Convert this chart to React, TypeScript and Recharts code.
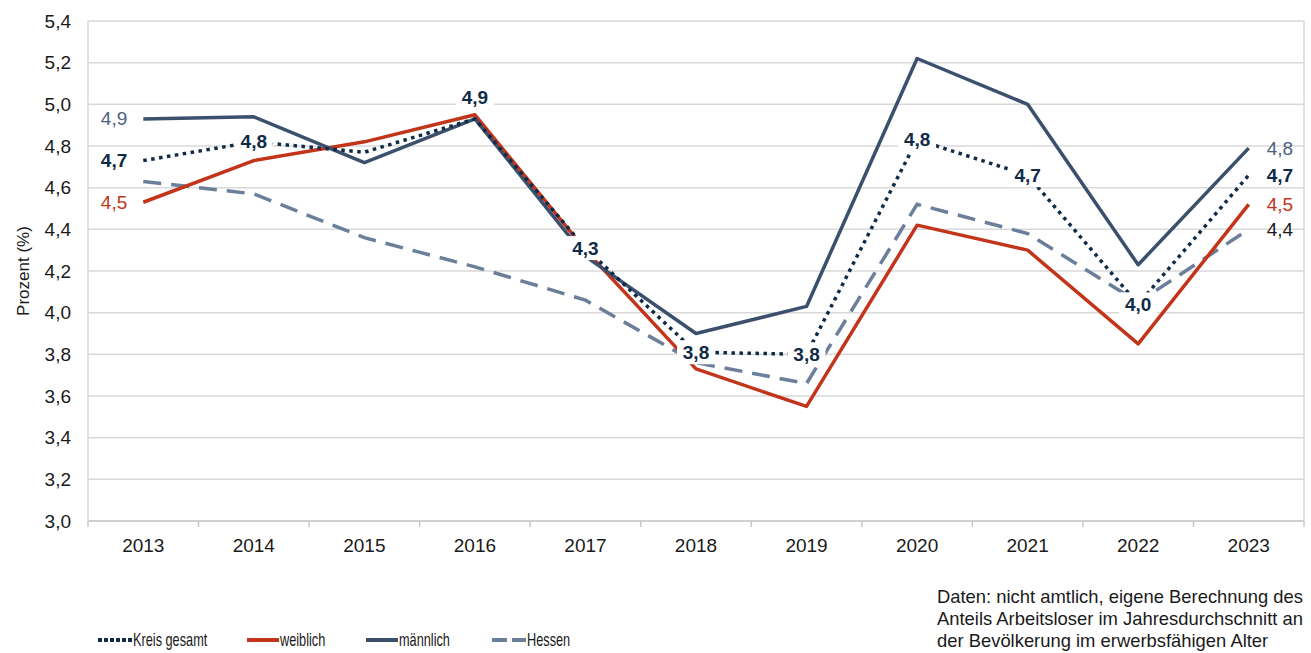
import { LineChart, Line, XAxis, YAxis, CartesianGrid, LabelList, ReferenceLine } from "recharts";

const YEARS = ["2013", "2014", "2015", "2016", "2017", "2018", "2019", "2020", "2021", "2022", "2023"];
const KREIS = [4.73, 4.82, 4.77, 4.93, 4.31, 3.81, 3.8, 4.83, 4.66, 4.04, 4.66];
const WEIBLICH = [4.53, 4.73, 4.82, 4.95, 4.3, 3.73, 3.55, 4.42, 4.3, 3.85, 4.52];
const MAENNLICH = [4.93, 4.94, 4.72, 4.93, 4.27, 3.9, 4.03, 5.22, 5.0, 4.23, 4.79];
const HESSEN = [4.63, 4.57, 4.36, 4.22, 4.06, 3.76, 3.66, 4.52, 4.38, 4.05, 4.4];
const Y_TICKS = [3.0, 3.2, 3.4, 3.6, 3.8, 4.0, 4.2, 4.4, 4.6, 4.8, 5.0, 5.2, 5.4];

const FOOTNOTE = [
  "Daten: nicht amtlich, eigene Berechnung des",
  "Anteils Arbeitsloser im Jahresdurchschnitt an",
  "der Bevölkerung im erwerbsfähigen Alter",
  "nach Geschlecht von 15-64 J.",
];

const W = 1311;
const H = 653;
const MARGIN = { top: 21, right: 7, bottom: 92, left: 0 };
const Y_AXIS_W = 88;
const X_AXIS_H = 40;
const AXIS_Y = H - MARGIN.bottom - X_AXIS_H;
const BAND = (W - MARGIN.left - MARGIN.right - Y_AXIS_W) / YEARS.length;

const C_KREIS = "#0f2b47";
const C_WEIBLICH = "#c2351b";
const C_MAENNLICH = "#3b506d";
const C_HESSEN = "#6b7f9a";
const FONT = "'Liberation Sans', Arial, sans-serif";

const data = YEARS.map((year, i) => ({
  year,
  pos: i + 0.5,
  kreis: KREIS[i],
  weiblich: WEIBLICH[i],
  maennlich: MAENNLICH[i],
  hessen: HESSEN[i],
}));

const fmt = (v: number) => v.toFixed(1).replace(".", ",");

type Place = "left" | "right" | "center" | "above" | null;
const KREIS_PLACES: Place[] = ["left", "center", null, "above", "center", "center", "center", "center", "center", "center", "right"];
const ENDS_PLACES: Place[] = ["left", null, null, null, null, null, null, null, null, null, "right"];
const RIGHT_ONLY: Place[] = [null, null, null, null, null, null, null, null, null, null, "right"];

function makeLabel(places: Place[], color: string, bold: boolean, boxed: boolean) {
  return (props: any) => {
    const { x, y, value, index } = props;
    const p = places[index];
    if (!p || value == null) return null;
    let tx = x;
    let ty = y;
    let anchor: "start" | "middle" | "end" = "middle";
    if (p === "left") {
      tx = x - 16;
      anchor = "end";
    } else if (p === "right") {
      tx = x + 18;
      anchor = "start";
    } else if (p === "above") {
      ty = y - 21;
    }
    const showBox = boxed && (p === "center" || p === "above");
    return (
      <g>
        {showBox && <rect x={tx - 19} y={ty - 12} width={38} height={24} fill="#fff" />}
        <text
          x={tx}
          y={ty}
          textAnchor={anchor}
          dominantBaseline="central"
          fontSize={19}
          fontWeight={bold ? 700 : 400}
          fill={color}
          fontFamily={FONT}
        >
          {fmt(value)}
        </text>
      </g>
    );
  };
}

function XTick(props: any) {
  const { x, index, payload } = props;
  const half = BAND / 2;
  const last = index === YEARS.length - 1;
  return (
    <g>
      <line x1={x - half} x2={x - half} y1={AXIS_Y} y2={AXIS_Y + 6} stroke="#c8c8c8" strokeWidth={1.5} />
      {last && <line x1={x + half} x2={x + half} y1={AXIS_Y} y2={AXIS_Y + 6} stroke="#c8c8c8" strokeWidth={1.5} />}
      <text x={x} y={AXIS_Y + 24} textAnchor="middle" dominantBaseline="central" fontSize={19} fill="#1a1a1a" fontFamily={FONT}>
        {YEARS[Math.round(payload.value - 0.5)]}
      </text>
    </g>
  );
}

function LegendIcon({ kind }: { kind: string }) {
  if (kind === "kreis")
    return (
      <svg width={34} height={10} style={{ display: "block" }}>
        <line x1={0} x2={34} y1={5} y2={5} stroke={C_KREIS} strokeWidth={4} strokeDasharray="4 2" />
      </svg>
    );
  if (kind === "hessen")
    return (
      <svg width={34} height={10} style={{ display: "block" }}>
        <line x1={0} x2={34} y1={5} y2={5} stroke={C_HESSEN} strokeWidth={4} strokeDasharray="15 5" />
      </svg>
    );
  return (
    <svg width={32} height={10} style={{ display: "block" }}>
      <line x1={0} x2={32} y1={5} y2={5} stroke={kind === "weiblich" ? C_WEIBLICH : C_MAENNLICH} strokeWidth={4} strokeLinecap="round" />
    </svg>
  );
}

const LEGEND = [
  { kind: "kreis", label: "Kreis gesamt", left: 98 },
  { kind: "weiblich", label: "weiblich", left: 247 },
  { kind: "maennlich", label: "männlich", left: 366 },
  { kind: "hessen", label: "Hessen", left: 492 },
];

export default function App() {
  return (
    <div style={{ position: "fixed", left: 0, top: 0, width: W, height: H, overflow: "hidden", background: "#fff" }}>
      <LineChart width={W} height={H} data={data} margin={MARGIN} style={{ fontFamily: FONT }}>
        <CartesianGrid vertical={false} stroke="#d9d9d9" strokeWidth={1.5} />
        <XAxis
          type="number"
          dataKey="pos"
          domain={[0, YEARS.length]}
          ticks={data.map((d) => d.pos)}
          interval={0}
          tick={<XTick />}
          tickLine={false}
          axisLine={{ stroke: "#c8c8c8", strokeWidth: 1.5 }}
          height={X_AXIS_H}
        />
        <YAxis
          type="number"
          domain={[3, 5.4]}
          ticks={Y_TICKS}
          interval={0}
          tickFormatter={fmt}
          width={Y_AXIS_W}
          axisLine={{ stroke: "#d9d9d9", strokeWidth: 1.5 }}
          tickLine={false}
          tickSize={0}
          tickMargin={17}
          tick={{ fontSize: 19, fill: "#1a1a1a", fontFamily: FONT }}
          label={{
            content: ({ viewBox }: any) => {
              const cx = 23;
              const cy = viewBox.y + viewBox.height / 2;
              return (
                <text x={cx} y={cy} transform={`rotate(-90, ${cx}, ${cy})`} textAnchor="middle" dominantBaseline="central" fontSize={17} fill="#1a1a1a" fontFamily={FONT}>
                  Prozent (%)
                </text>
              );
            },
          }}
        />
        <ReferenceLine x={YEARS.length} stroke="#d9d9d9" strokeWidth={1.5} />
        <Line dataKey="hessen" stroke={C_HESSEN} strokeWidth={3.5} strokeDasharray="18 10" dot={false} isAnimationActive={false}>
          <LabelList dataKey="hessen" content={makeLabel(RIGHT_ONLY, "#1a1a1a", false, false)} />
        </Line>
        <Line dataKey="weiblich" stroke={C_WEIBLICH} strokeWidth={3.5} strokeLinejoin="round" dot={false} isAnimationActive={false}>
          <LabelList dataKey="weiblich" content={makeLabel(ENDS_PLACES, C_WEIBLICH, false, false)} />
        </Line>
        <Line dataKey="maennlich" stroke={C_MAENNLICH} strokeWidth={3.5} strokeLinejoin="round" dot={false} isAnimationActive={false}>
          <LabelList dataKey="maennlich" content={makeLabel(ENDS_PLACES, "#4d6280", false, false)} />
        </Line>
        <Line dataKey="kreis" stroke={C_KREIS} strokeWidth={3.5} strokeDasharray="3.5 4.5" dot={false} isAnimationActive={false}>
          <LabelList dataKey="kreis" content={makeLabel(KREIS_PLACES, C_KREIS, true, true)} />
        </Line>
      </LineChart>

      {LEGEND.map((item) => (
        <div key={item.kind} style={{ position: "absolute", left: item.left, top: 629, display: "flex", alignItems: "center", height: 22 }}>
          <LegendIcon kind={item.kind} />
          <span
            style={{
              display: "inline-block",
              fontFamily: FONT,
              fontSize: 19,
              color: "#1a1a1a",
              transform: "scaleX(0.67)",
              transformOrigin: "left center",
              whiteSpace: "nowrap",
              marginLeft: 1,
            }}
          >
            {item.label}
          </span>
        </div>
      ))}

      <div style={{ position: "absolute", left: 937, top: 586, fontFamily: FONT, fontSize: 18.4, lineHeight: "22px", color: "#1a1a1a", whiteSpace: "nowrap" }}>
        {FOOTNOTE.map((line) => (
          <div key={line}>{line}</div>
        ))}
      </div>
    </div>
  );
}
